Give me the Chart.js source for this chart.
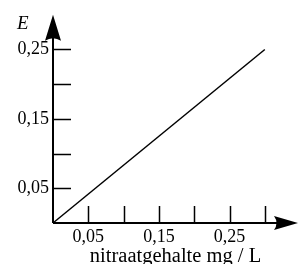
<!DOCTYPE html>
<html>
<head>
<meta charset="utf-8">
<script src="https://cdn.jsdelivr.net/npm/chart.js@4"></script>
<style>
  html, body { margin: 0; padding: 0; background: #fff; }
  #wrap { width: 301px; height: 264px; }
</style>
</head>
<body>
<div id="wrap"><canvas id="myChart"></canvas></div>
<script>
// //////////// data
const lineX = [0, 0.30];
const lineY = [0, 0.25];
const tickValues = [0.05, 0.10, 0.15, 0.20, 0.25];
const xTickValues = [0.05, 0.10, 0.15, 0.20, 0.25, 0.30];
const labelledValues = [0.05, 0.15, 0.25];
const xTitle = 'nitraatgehalte mg / L';
const yTitle = 'E';

const serif = '"Liberation Serif", "Times New Roman", serif';

const fmt = function(v){
    for (let i = 0; i < labelledValues.length; i++) {
        if (Math.abs(v - labelledValues[i]) < 1e-6) return labelledValues[i].toFixed(2).replace('.', ',');
    }
    return '';
};

// //////////// axes with arrows and inward ticks
const axesPlugin = {
    id: 'axesArrows',
    afterDraw(chart) {
        const ctx = chart.ctx;
        const xs = chart.scales.x, ys = chart.scales.y;
        const x0 = xs.getPixelForValue(0), y0 = ys.getPixelForValue(0);
        const top = chart.chartArea.top, right = chart.chartArea.right;
        ctx.save();
        ctx.strokeStyle = '#000';
        ctx.fillStyle = '#000';
        ctx.lineWidth = 2;
        ctx.beginPath();
        ctx.moveTo(x0, y0); ctx.lineTo(x0, top + 10);
        ctx.moveTo(x0, y0); ctx.lineTo(right - 10, y0);
        ctx.stroke();
        // ticks
        ctx.lineWidth = 1.5;
        ctx.beginPath();
        tickValues.forEach(v => {
            const p = Math.round(ys.getPixelForValue(v)) + 0.5;
            ctx.moveTo(x0, p); ctx.lineTo(x0 + 18, p);
        });
        xTickValues.forEach(v => {
            const p = Math.round(xs.getPixelForValue(v)) + 0.5;
            ctx.moveTo(p, y0); ctx.lineTo(p, y0 - 17);
        });
        ctx.stroke();
        // arrow heads
        ctx.beginPath();
        ctx.moveTo(x0, top);
        ctx.lineTo(x0 + 8, top + 26);
        ctx.quadraticCurveTo(x0, top + 21, x0 - 8, top + 26);
        ctx.closePath();
        ctx.fill();
        ctx.beginPath();
        ctx.moveTo(right, y0);
        ctx.lineTo(right - 24, y0 + 7);
        ctx.quadraticCurveTo(right - 19, y0, right - 24, y0 - 7);
        ctx.closePath();
        ctx.fill();
        // E label
        ctx.font = 'italic 19px ' + serif;
        ctx.textAlign = 'left';
        ctx.textBaseline = 'alphabetic';
        ctx.fillText(yTitle, 17, 29);
        ctx.restore();
    }
};

const ctx = document.getElementById('myChart').getContext('2d');
const myChart = new Chart(ctx, {
    type: 'scatter',
    data: {
        datasets: [{
            data: lineX.map((x, i) => ({x: x, y: lineY[i]})),
            showLine: true,
            borderColor: '#000',
            borderWidth: 1.5,
            pointRadius: 0,
            clip: false
        }]
    },
    options: {
        responsive: true,
        maintainAspectRatio: false,
        animation: false,
        layout: { padding: { top: 10, right: 1, left: 0, bottom: 0 } },
        plugins: { legend: { display: false }, tooltip: { enabled: false } },
        scales: {
            x: {
                type: 'linear',
                min: 0,
                max: 0.347,
                border: { display: false },
                grid: { display: false, drawTicks: false },
                ticks: {
                    stepSize: 0.05,
                    autoSkip: false,
                    maxRotation: 0,
                    padding: 3,
                    color: '#000',
                    font: { family: serif, size: 18 },
                    callback: fmt
                },
                title: {
                    display: true,
                    text: xTitle,
                    color: '#000',
                    padding: { top: 0, bottom: -3 },
                    font: { family: serif, size: 20.5, lineHeight: 1 }
                },
                afterFit: function(scale){ scale.height = 41; }
            },
            y: {
                type: 'linear',
                min: 0,
                max: 0.30,
                border: { display: false },
                grid: { display: false, drawTicks: false },
                ticks: {
                    stepSize: 0.05,
                    autoSkip: false,
                    padding: 4,
                    color: '#000',
                    font: { family: serif, size: 18 },
                    callback: fmt
                },
                afterFit: function(scale){ scale.width = 53; }
            }
        }
    },
    plugins: [axesPlugin]
});
</script>
</body>
</html>
